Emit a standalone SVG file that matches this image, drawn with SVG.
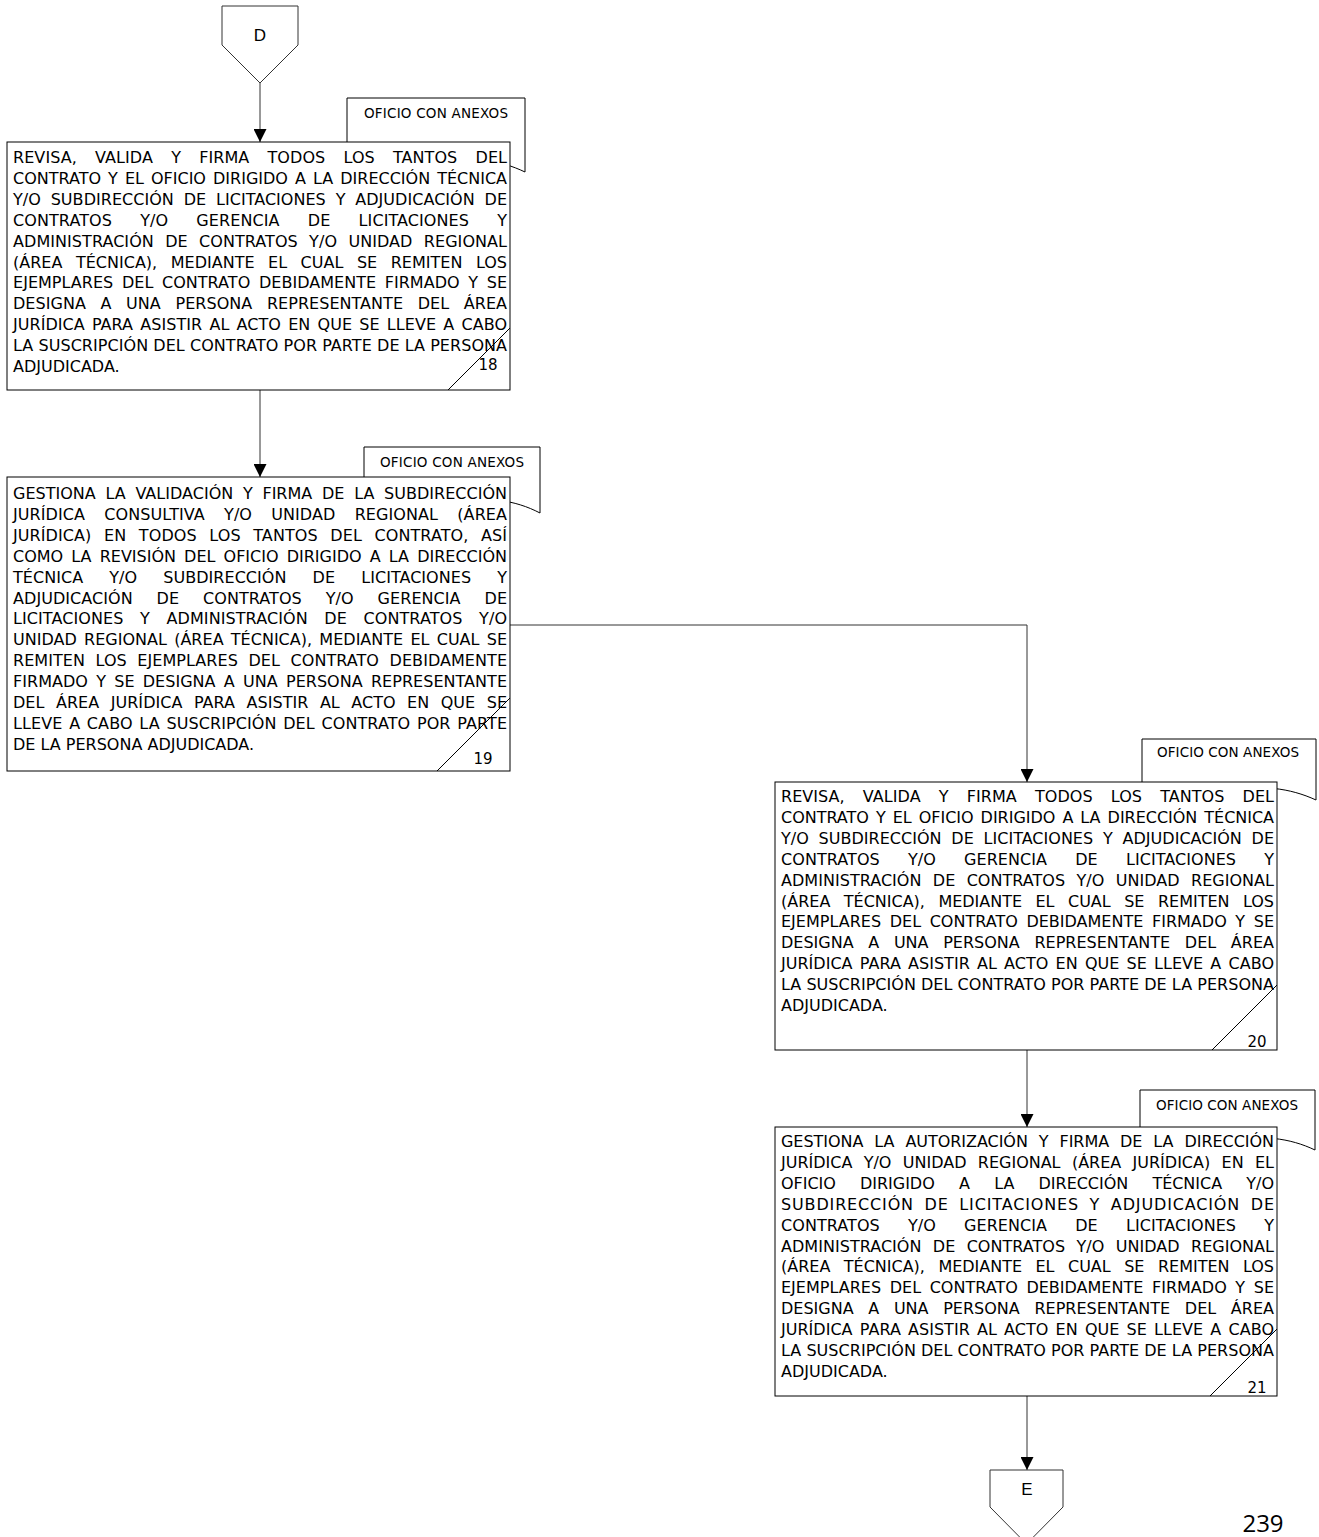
<svg xmlns="http://www.w3.org/2000/svg" width="1319" height="1537" viewBox="0 0 1319 1537">
<style>
.box{fill:#fff;stroke:#000;stroke-width:1}
.doc{fill:#fff;stroke:#000;stroke-width:1}
.t{font-family:"DejaVu Sans",Verdana,sans-serif;font-size:16px;fill:#000}
.lbl{font-family:"DejaVu Sans",Verdana,sans-serif;font-size:13.5px;fill:#000;text-anchor:middle}
.num{font-family:"DejaVu Sans",Verdana,sans-serif;font-size:15px;fill:#000;text-anchor:middle}
.diag{stroke:#000;stroke-width:1;fill:none}
.con{stroke:#333;stroke-width:1;fill:none}
.off{fill:#fff;stroke:#333;stroke-width:1}
.ol{font-family:"Liberation Sans",Arial,sans-serif;font-size:17px;fill:#000;text-anchor:middle}
</style>
<defs>
<marker id="arr" viewBox="0 0 13 13" refX="13" refY="6.5" markerWidth="13" markerHeight="13" orient="auto" markerUnits="userSpaceOnUse"><path d="M0,0 L13,6.5 L0,13 Z" fill="#000"/></marker>
</defs>
<rect width="1319" height="1537" fill="#fff"/>

<g id="connectors">
<path class="con" d="M260,83 V142" marker-end="url(#arr)"/>
<path class="con" d="M260,390 V477" marker-end="url(#arr)"/>
<path class="con" d="M510,625 H1027 V782" marker-end="url(#arr)"/>
<path class="con" d="M1027,1050 V1127" marker-end="url(#arr)"/>
<path class="con" d="M1027,1396 V1470" marker-end="url(#arr)"/>
</g>

<g id="D">
<path class="off" d="M222,6 H298 V45 L260,83 L222,45 Z"/>
<text class="ol" x="260" y="41">D</text>
</g>

<g id="n18">
<path class="doc" d="M347,98 H525 V172 C500,160 470,155 436,165 C400,175 370,172 347,160 Z"/>
<text class="lbl" x="436" y="118" textLength="144" lengthAdjust="spacing">OFICIO CON ANEXOS</text>
<rect class="box" x="7" y="142" width="503" height="248"/>
<g class="t">
<text x="13" y="163" word-spacing="13" textLength="494" lengthAdjust="spacing">REVISA, VALIDA Y FIRMA TODOS LOS TANTOS DEL</text>
<text x="13" y="183.9" word-spacing="2" textLength="494" lengthAdjust="spacing">CONTRATO Y EL OFICIO DIRIGIDO A LA DIRECCIÓN TÉCNICA</text>
<text x="13" y="204.8" word-spacing="4.7" textLength="494" lengthAdjust="spacing">Y/O SUBDIRECCIÓN DE LICITACIONES Y ADJUDICACIÓN DE</text>
<text x="13" y="225.7" word-spacing="23" textLength="494" lengthAdjust="spacing">CONTRATOS Y/O GERENCIA DE LICITACIONES Y</text>
<text x="13" y="246.6" word-spacing="6.2" textLength="494" lengthAdjust="spacing">ADMINISTRACIÓN DE CONTRATOS Y/O UNIDAD REGIONAL</text>
<text x="13" y="267.5" word-spacing="8.4" textLength="494" lengthAdjust="spacing">(ÁREA TÉCNICA), MEDIANTE EL CUAL SE REMITEN LOS</text>
<text x="13" y="288.4" word-spacing="3.5" textLength="494" lengthAdjust="spacing">EJEMPLARES DEL CONTRATO DEBIDAMENTE FIRMADO Y SE</text>
<text x="13" y="309.3" word-spacing="9.5" textLength="494" lengthAdjust="spacing">DESIGNA A UNA PERSONA REPRESENTANTE DEL ÁREA</text>
<text x="13" y="330.2" word-spacing="2.1" textLength="494" lengthAdjust="spacing">JURÍDICA PARA ASISTIR AL ACTO EN QUE SE LLEVE A CABO</text>
<text x="13" y="351.1" textLength="494" lengthAdjust="spacing">LA SUSCRIPCIÓN DEL CONTRATO POR PARTE DE LA PERSONA</text>
<text x="13" y="372">ADJUDICADA.</text>
</g>
<line class="diag" x1="448" y1="390" x2="510" y2="328"/>
<text class="num" x="488" y="370">18</text>
</g>

<g id="n19">
<path class="doc" d="M364,447 H540 V513 C515,500 485,495 452,505 C420,515 390,512 364,500 Z"/>
<text class="lbl" x="452" y="467" textLength="144" lengthAdjust="spacing">OFICIO CON ANEXOS</text>
<rect class="box" x="7" y="477" width="503" height="294"/>
<g class="t">
<text x="13" y="499" word-spacing="4.6" textLength="494" lengthAdjust="spacing">GESTIONA LA VALIDACIÓN Y FIRMA DE LA SUBDIRECCIÓN</text>
<text x="13" y="519.9" word-spacing="14" textLength="494" lengthAdjust="spacing">JURÍDICA CONSULTIVA Y/O UNIDAD REGIONAL (ÁREA</text>
<text x="13" y="540.8" word-spacing="7.4" textLength="494" lengthAdjust="spacing">JURÍDICA) EN TODOS LOS TANTOS DEL CONTRATO, ASÍ</text>
<text x="13" y="561.7" word-spacing="3.1" textLength="494" lengthAdjust="spacing">COMO LA REVISIÓN DEL OFICIO DIRIGIDO A LA DIRECCIÓN</text>
<text x="13" y="582.6" word-spacing="21" textLength="494" lengthAdjust="spacing">TÉCNICA Y/O SUBDIRECCIÓN DE LICITACIONES Y</text>
<text x="13" y="603.5" word-spacing="18.8" textLength="494" lengthAdjust="spacing">ADJUDICACIÓN DE CONTRATOS Y/O GERENCIA DE</text>
<text x="13" y="624.4" word-spacing="11.4" textLength="494" lengthAdjust="spacing">LICITACIONES Y ADMINISTRACIÓN DE CONTRATOS Y/O</text>
<text x="13" y="645.3" word-spacing="2.1" textLength="494" lengthAdjust="spacing">UNIDAD REGIONAL (ÁREA TÉCNICA), MEDIANTE EL CUAL SE</text>
<text x="13" y="666.2" word-spacing="5.4" textLength="494" lengthAdjust="spacing">REMITEN LOS EJEMPLARES DEL CONTRATO DEBIDAMENTE</text>
<text x="13" y="687.1" word-spacing="3.1" textLength="494" lengthAdjust="spacing">FIRMADO Y SE DESIGNA A UNA PERSONA REPRESENTANTE</text>
<text x="13" y="708" word-spacing="6.3" textLength="494" lengthAdjust="spacing">DEL ÁREA JURÍDICA PARA ASISTIR AL ACTO EN QUE SE</text>
<text x="13" y="728.9" word-spacing="1.5" textLength="494" lengthAdjust="spacing">LLEVE A CABO LA SUSCRIPCIÓN DEL CONTRATO POR PARTE</text>
<text x="13" y="749.8">DE LA PERSONA ADJUDICADA.</text>
</g>
<line class="diag" x1="437" y1="771" x2="510" y2="698"/>
<text class="num" x="483" y="764">19</text>
</g>

<g id="n20">
<path class="doc" d="M1142,739 H1316 V800 C1290,788 1260,784 1228,792 C1195,800 1165,798 1142,788 Z"/>
<text class="lbl" x="1228" y="757" textLength="142" lengthAdjust="spacing">OFICIO CON ANEXOS</text>
<rect class="box" x="775" y="782" width="502" height="268"/>
<g class="t">
<text x="781" y="802" word-spacing="13" textLength="493" lengthAdjust="spacing">REVISA, VALIDA Y FIRMA TODOS LOS TANTOS DEL</text>
<text x="781" y="822.9" word-spacing="2" textLength="493" lengthAdjust="spacing">CONTRATO Y EL OFICIO DIRIGIDO A LA DIRECCIÓN TÉCNICA</text>
<text x="781" y="843.8" word-spacing="4.7" textLength="493" lengthAdjust="spacing">Y/O SUBDIRECCIÓN DE LICITACIONES Y ADJUDICACIÓN DE</text>
<text x="781" y="864.7" word-spacing="23" textLength="493" lengthAdjust="spacing">CONTRATOS Y/O GERENCIA DE LICITACIONES Y</text>
<text x="781" y="885.6" word-spacing="6.2" textLength="493" lengthAdjust="spacing">ADMINISTRACIÓN DE CONTRATOS Y/O UNIDAD REGIONAL</text>
<text x="781" y="906.5" word-spacing="8.4" textLength="493" lengthAdjust="spacing">(ÁREA TÉCNICA), MEDIANTE EL CUAL SE REMITEN LOS</text>
<text x="781" y="927.4" word-spacing="3.5" textLength="493" lengthAdjust="spacing">EJEMPLARES DEL CONTRATO DEBIDAMENTE FIRMADO Y SE</text>
<text x="781" y="948.3" word-spacing="9.5" textLength="493" lengthAdjust="spacing">DESIGNA A UNA PERSONA REPRESENTANTE DEL ÁREA</text>
<text x="781" y="969.2" word-spacing="2.1" textLength="493" lengthAdjust="spacing">JURÍDICA PARA ASISTIR AL ACTO EN QUE SE LLEVE A CABO</text>
<text x="781" y="990.1" textLength="493" lengthAdjust="spacing">LA SUSCRIPCIÓN DEL CONTRATO POR PARTE DE LA PERSONA</text>
<text x="781" y="1011">ADJUDICADA.</text>
</g>
<line class="diag" x1="1212" y1="1050" x2="1277" y2="985"/>
<text class="num" x="1257" y="1047">20</text>
</g>

<g id="n21">
<path class="doc" d="M1140,1090 H1315 V1150 C1290,1138 1260,1134 1228,1142 C1195,1150 1165,1148 1140,1138 Z"/>
<text class="lbl" x="1227" y="1110" textLength="142" lengthAdjust="spacing">OFICIO CON ANEXOS</text>
<rect class="box" x="775" y="1127" width="502" height="269"/>
<g class="t">
<text x="781" y="1147" word-spacing="5.9" textLength="493" lengthAdjust="spacing">GESTIONA LA AUTORIZACIÓN Y FIRMA DE LA DIRECCIÓN</text>
<text x="781" y="1167.9" word-spacing="6.3" textLength="493" lengthAdjust="spacing">JURÍDICA Y/O UNIDAD REGIONAL (ÁREA JURÍDICA) EN EL</text>
<text x="781" y="1188.8" word-spacing="19.2" textLength="493" lengthAdjust="spacing">OFICIO DIRIGIDO A LA DIRECCIÓN TÉCNICA Y/O</text>
<text x="781" y="1209.7" word-spacing="4.7" textLength="493" lengthAdjust="spacing">SUBDIRECCIÓN DE LICITACIONES Y ADJUDICACIÓN DE</text>
<text x="781" y="1230.6" word-spacing="23" textLength="493" lengthAdjust="spacing">CONTRATOS Y/O GERENCIA DE LICITACIONES Y</text>
<text x="781" y="1251.5" word-spacing="6.2" textLength="493" lengthAdjust="spacing">ADMINISTRACIÓN DE CONTRATOS Y/O UNIDAD REGIONAL</text>
<text x="781" y="1272.4" word-spacing="8.4" textLength="493" lengthAdjust="spacing">(ÁREA TÉCNICA), MEDIANTE EL CUAL SE REMITEN LOS</text>
<text x="781" y="1293.3" word-spacing="3.5" textLength="493" lengthAdjust="spacing">EJEMPLARES DEL CONTRATO DEBIDAMENTE FIRMADO Y SE</text>
<text x="781" y="1314.2" word-spacing="9.5" textLength="493" lengthAdjust="spacing">DESIGNA A UNA PERSONA REPRESENTANTE DEL ÁREA</text>
<text x="781" y="1335.1" word-spacing="2.1" textLength="493" lengthAdjust="spacing">JURÍDICA PARA ASISTIR AL ACTO EN QUE SE LLEVE A CABO</text>
<text x="781" y="1356" textLength="493" lengthAdjust="spacing">LA SUSCRIPCIÓN DEL CONTRATO POR PARTE DE LA PERSONA</text>
<text x="781" y="1376.9">ADJUDICADA.</text>
</g>
<line class="diag" x1="1210" y1="1396" x2="1277" y2="1329"/>
<text class="num" x="1257" y="1393">21</text>
</g>

<g id="E">
<path class="off" d="M990,1470 H1063 V1507 L1026.5,1544 L990,1507 Z"/>
<text class="ol" x="1027" y="1495">E</text>
</g>

<text x="1263" y="1532" font-family="'Open Sans','Liberation Sans',sans-serif" font-size="24" text-anchor="middle" fill="#000">239</text>
</svg>
